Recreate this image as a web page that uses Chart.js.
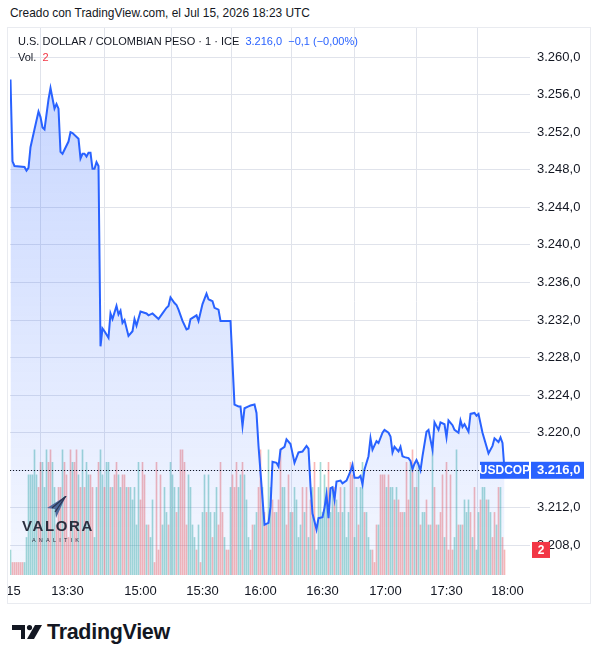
<!DOCTYPE html>
<html>
<head>
<meta charset="utf-8">
<script src="https://cdn.jsdelivr.net/npm/chart.js@4"></script>
<style>
  body { margin: 0; width: 598px; height: 664px; background: #fff; position: relative; overflow: hidden;
         font-family: 'Liberation Sans', Arial, sans-serif; color: #131722; }
  .abs { position: absolute; white-space: nowrap; }
  #frame { left: 8px; top: 28px; width: 582px; height: 575px; outline: 1px solid #e9ebf0; }
  .blue { color: #2962ff; }
  .red { color: #f23645; }
</style>
</head>
<body>
<div class="abs" style="left:10px;top:6px;font-size:11.9px;">Creado con TradingView.com, el Jul 15, 2026 18:23 UTC</div>
<div id="frame" class="abs"><canvas id="myChart"></canvas></div>

<div class="abs" style="left:18px;top:35px;font-size:11px;">U.S. DOLLAR / COLOMBIAN PESO · 1 · ICE&nbsp;&nbsp;<span class="blue">3.216,0&nbsp;&nbsp;−0,1 (−0,00%)</span></div>
<div class="abs" style="left:18px;top:51px;font-size:11px;">Vol.&nbsp;&nbsp;<span class="red">2</span></div>

<!-- marca de agua Valora Analitik -->
<svg class="abs" style="left:46px;top:496px" width="22" height="23" viewBox="0 0 22 23">
  <polygon points="20,0 1,12 9,13 10,22" fill="#4d6a9c"/>
  <polyline points="20,0 6,12" stroke="#2c3550" stroke-width="1.2" fill="none"/>
  <polyline points="20,0 9,16" stroke="#2c3550" stroke-width="1.2" fill="none"/>
</svg>
<div class="abs" style="left:22px;top:517px;font-size:15px;font-weight:bold;letter-spacing:1.6px;color:#2b2f3f;">VALORA</div>
<div class="abs" style="left:32px;top:537px;font-size:5.5px;letter-spacing:3.2px;color:#2b2f3f;">ANALITIK</div>

<!-- logo TradingView -->
<svg class="abs" style="left:12px;top:625px" width="30" height="14" viewBox="0 0 30 14">
  <path d="M0 0 H13 V14 H9 V5 H0 Z" fill="#131722"/>
  <circle cx="17.5" cy="2.6" r="2.6" fill="#131722"/>
  <polygon points="23,0 30,0 22,14 15,14" fill="#131722"/>
</svg>
<div class="abs" style="left:47px;top:620px;font-size:21.5px;font-weight:bold;letter-spacing:-0.3px;color:#131722;">TradingView</div>

<script>
// eje X: posiciones (indice de vela de 1 minuto) y etiquetas
const xLabels = ['15', '13:30', '15:00', '15:30', '16:00', '16:30', '17:00', '17:30', '18:00'];
const xTickPos = [1.5, 28.5, 65, 96, 125, 156, 187.5, 218, 248.5];

// eje de precio
const priceTicks = [3208, 3212, 3216, 3220, 3224, 3228, 3232, 3236, 3240, 3244, 3248, 3252, 3256, 3260];

// precio de cierre: indice de vela y valor
const priceIdx = [0, 1, 2, 7, 8, 9, 10, 12, 14, 15, 16, 17, 19, 20, 22, 23, 24, 25, 26, 29,
  30, 31, 34, 35, 36, 37, 38, 39, 40, 41, 42, 43, 44, 45, 46, 47, 49, 50, 51, 53,
  54, 55, 56, 57, 59, 61, 62, 63, 65, 68, 69, 71, 74, 76, 78, 79, 80, 82, 83, 84,
  86, 88, 89, 90, 93, 94, 96, 98, 99, 100, 101, 102, 104, 105, 110, 112, 114, 115, 116, 117,
  119, 120, 122, 123, 124, 127, 129, 130, 131, 133, 134, 135, 137, 138, 140, 141, 142, 144, 146, 148,
  149, 150, 151, 153, 154, 156, 157, 158, 159, 160, 161, 162, 163, 165, 166, 168, 170, 171, 172, 174,
  175, 176, 177, 179, 180, 181, 183, 184, 186, 187, 189, 190, 191, 192, 194, 195, 196, 197, 199, 200,
  201, 202, 203, 204, 205, 206, 208, 209, 211, 212, 214, 215, 217, 218, 219, 221, 222, 224, 225, 226,
  227, 229, 230, 232, 233, 234, 236, 239, 241, 242, 244, 245, 246, 247];
const priceVal = [3257.6, 3248.9, 3248.4, 3248.3, 3247.9, 3248.2, 3250.4, 3252.3, 3254.2, 3253.6, 3252.5, 3252.3, 3255.5, 3256.7, 3254.5, 3255.0, 3254.5, 3249.9, 3249.7, 3251.0,
  3252.0, 3251.9, 3251.3, 3249.2, 3249.7, 3249.7, 3249.4, 3249.8, 3249.8, 3248.1, 3248.1, 3248.8, 3248.4, 3229.2, 3231.1, 3230.8, 3230.1, 3232.7, 3232.1, 3233.5,
  3232.6, 3233.0, 3231.7, 3232.0, 3230.3, 3230.8, 3232.1, 3231.4, 3232.9, 3232.7, 3232.5, 3232.7, 3232.1, 3232.7, 3233.3, 3233.5, 3234.4, 3233.8, 3233.6, 3233.1,
  3231.9, 3231.0, 3231.1, 3232.1, 3232.5, 3231.9, 3233.7, 3234.8, 3234.2, 3234.1, 3234.0, 3233.3, 3233.1, 3231.9, 3231.9, 3223.0, 3222.8, 3222.8, 3220.7, 3222.6,
  3222.8, 3222.9, 3223.0, 3222.1, 3218.6, 3210.2, 3210.4, 3212.1, 3216.9, 3216.8, 3216.4, 3218.2, 3218.5, 3219.3, 3218.8, 3217.8, 3216.8, 3217.9, 3218.0, 3218.6,
  3218.3, 3214.3, 3211.4, 3209.7, 3210.9, 3211.0, 3212.0, 3213.4, 3210.9, 3214.1, 3214.2, 3212.9, 3214.8, 3214.9, 3214.6, 3214.9, 3215.9, 3216.6, 3215.2, 3215.2,
  3215.4, 3214.5, 3216.1, 3217.5, 3219.4, 3218.2, 3219.1, 3218.9, 3220.0, 3220.3, 3220.0, 3219.6, 3217.9, 3218.5, 3218.0, 3218.5, 3217.5, 3217.4, 3217.3, 3217.0,
  3216.1, 3216.7, 3217.1, 3216.6, 3216.0, 3217.5, 3220.1, 3220.3, 3218.2, 3221.1, 3220.3, 3221.1, 3220.9, 3219.5, 3221.3, 3220.8, 3220.3, 3220.0, 3221.3, 3220.6,
  3220.9, 3220.1, 3222.0, 3222.1, 3221.8, 3222.0, 3220.0, 3217.8, 3218.6, 3219.4, 3219.0, 3219.5, 3218.9, 3216.0];

// volumen por vela: positivo = vela alcista (verde), negativo = bajista (rojo)
const volume = [2, -1, -1, -1, -1, -1, -1, 1, 3, 8, 8, 8, 10, 8, -7, -9, 9, 7, 10, -9,
  -10, 9, 7, -4, -7, -7, 10, -9, -8, -3, -10, 9, -9, -10, 8, -7, 10, -7, 9, 8,
  -8, -7, 3, 7, -9, 10, 8, -7, 9, 9, -7, 7, -8, -9, 8, 7, -8, -8, 7, -7,
  7, 6,
  7, 4, 9, -6, -9, -8, 4, -4, 3, 6, -1, -9, -2, -8, 4, 7, 5, -4, 9, 8,
  7, -5, 7, -10, -10, -9, -4, 8, 7, 4, 3, -2, 4, -1, 5, 8, -5, 8, 5, -3,
  5, 7, -4, -9, -5, 3, -2, -2, 7, -8, -7, -9, 7, 8, -9, 8, 6, 3, -2, -4,
  4, 5, -7,
  -10, 7, -5, -4, 10, 7, -6, -5, 5, -6, -10, 7, 7, -4, -8, 5, -5, 7, 6, 3,
  4, -7, 5, -7, 3, -6, 7, -9, 2, 7, 9, 5, 8, 7, -9, 5, 7, -7, 6, 5,
  -7, 5, 7, 3, 5, -9, -8, 3, 7, -4, 7, 9, -5, 5, 3, 2, -2, -1, -4, 4,
  -8, -8,
  -8, 7, -8, 7, 7, -6, 7, -6, -5, -5, 5, -9, -6, 9, -10, 7, -7, 9, -4, 5,
  5, -6, 4, -4, 10, -7, -4, 4, -5, -8, 3, -9, -2, -8, -2, 3, 10, -4, 4, -4,
  6, 5, 6, -5, 3, -7, 2, 5, -6, 7, 7, -6, 6, 5, -3, -5, 4, -7, 7, -3, -2];

const lastPrice = 3216.0;
const lastVol = 2;
const symbol = 'USDCOP';

// 3216 -> "3.216,0"
function fmtPrice(v) {
    const parts = v.toFixed(1).split('.');
    const ent = parts[0].replace(/\B(?=(\d{3})+(?!\d))/g, '.');
    return ent + ',' + parts[1];
}

const tagsPlugin = {
    id: 'tags',
    afterDraw(chart) {
        const ctx = chart.ctx;
        const area = chart.chartArea;
        const y = chart.scales.y.getPixelForValue(lastPrice);
        const yv = chart.scales.yv.getPixelForValue(lastVol);
        ctx.save();
        // linea punteada del ultimo precio
        ctx.strokeStyle = '#131722';
        ctx.lineWidth = 1;
        ctx.setLineDash([1, 2]);
        ctx.beginPath();
        ctx.moveTo(area.left, Math.round(y) + 0.5);
        ctx.lineTo(area.right - 50, Math.round(y) + 0.5);
        ctx.stroke();
        ctx.setLineDash([]);

        ctx.fillStyle = '#2962ff';
        ctx.fillRect(area.right - 50, y - 8.5, 49, 17);
        ctx.fillRect(area.right + 1, y - 8.5, 53, 17);
        ctx.fillStyle = '#fff';
        ctx.textBaseline = 'middle';
        ctx.font = 'bold 12px "Liberation Sans", Arial, sans-serif';
        ctx.textAlign = 'center';
        ctx.fillText(symbol, area.right - 25.5, y + 0.5);
        ctx.textAlign = 'left';
        ctx.font = 'bold 13px "Liberation Sans", Arial, sans-serif';
        ctx.fillText(fmtPrice(lastPrice), area.right + 7, y + 0.5);

        // etiqueta del volumen
        ctx.fillStyle = '#f23645';
        ctx.fillRect(area.right + 2, yv - 8, 18, 16);
        ctx.fillStyle = '#fff';
        ctx.textAlign = 'center';
        ctx.font = 'bold 12px "Liberation Sans", Arial, sans-serif';
        ctx.fillText(String(lastVol), area.right + 11, yv + 0.5);
        ctx.restore();
    }
};

const chartConfig = {
    type: 'bar',
    data: {
        datasets: [
            {
                type: 'line',
                label: 'USDCOP',
                data: priceIdx.map((x, i) => ({ x: x, y: priceVal[i] })),
                yAxisID: 'y',
                borderColor: '#2962ff',
                borderWidth: 2,
                pointRadius: 0,
                tension: 0,
                fill: 'start',
                backgroundColor: (c) => {
                    const area = c.chart.chartArea;
                    if (!area) return 'rgba(41,98,255,0.15)';
                    const g = c.chart.ctx.createLinearGradient(0, area.top, 0, area.bottom);
                    g.addColorStop(0, 'rgba(41,98,255,0.28)');
                    g.addColorStop(1, 'rgba(41,98,255,0.05)');
                    return g;
                },
                order: 0
            },
            {
                label: 'Vol',
                data: volume.map((v, i) => ({ x: i, y: Math.abs(v) })),
                yAxisID: 'yv',
                backgroundColor: volume.map(v => v >= 0 ? 'rgba(38,166,154,0.42)' : 'rgba(239,83,80,0.42)'),
                barThickness: 1,
                order: 1
            }
        ]
    },
    options: {
        responsive: true,
        maintainAspectRatio: false,
        animation: false,
        layout: { padding: { left: 2, top: 0, right: 0, bottom: 0 } },
        plugins: { legend: { display: false }, tooltip: { enabled: false } },
        scales: {
            x: {
                type: 'linear',
                offset: false,
                // desfase de medio pixel para que las barras de 1px queden nitidas
                min: -0.25,
                max: 259.75,
                afterBuildTicks: (s) => { s.ticks = xTickPos.map(v => ({ value: v })); },
                afterFit: (s) => { s.height = 28; s.paddingLeft = 0; s.paddingRight = 0; },
                grid: { color: '#e0e3eb', drawTicks: false },
                border: { display: false },
                ticks: {
                    autoSkip: false,
                    maxRotation: 0,
                    padding: 9,
                    color: '#131722',
                    font: { family: "'Liberation Sans', Arial, sans-serif", size: 13 },
                    callback: (v, i) => xLabels[i]
                }
            },
            y: {
                position: 'right',
                min: 3204.85,
                max: 3263.09,
                afterBuildTicks: (s) => { s.ticks = priceTicks.map(v => ({ value: v })); },
                afterFit: (s) => { s.width = 60; s.paddingTop = 0; s.paddingBottom = 0; },
                grid: { color: '#e0e3eb', drawTicks: false },
                border: { display: false },
                ticks: {
                    padding: 7,
                    color: '#131722',
                    font: { family: "'Liberation Sans', Arial, sans-serif", size: 13 },
                    callback: (v) => fmtPrice(v)
                }
            },
            yv: {
                display: false,
                min: 0,
                max: 43.7
            }
        }
    },
    plugins: [tagsPlugin]
};

new Chart(document.getElementById('myChart').getContext('2d'), chartConfig);
</script>
</body>
</html>
